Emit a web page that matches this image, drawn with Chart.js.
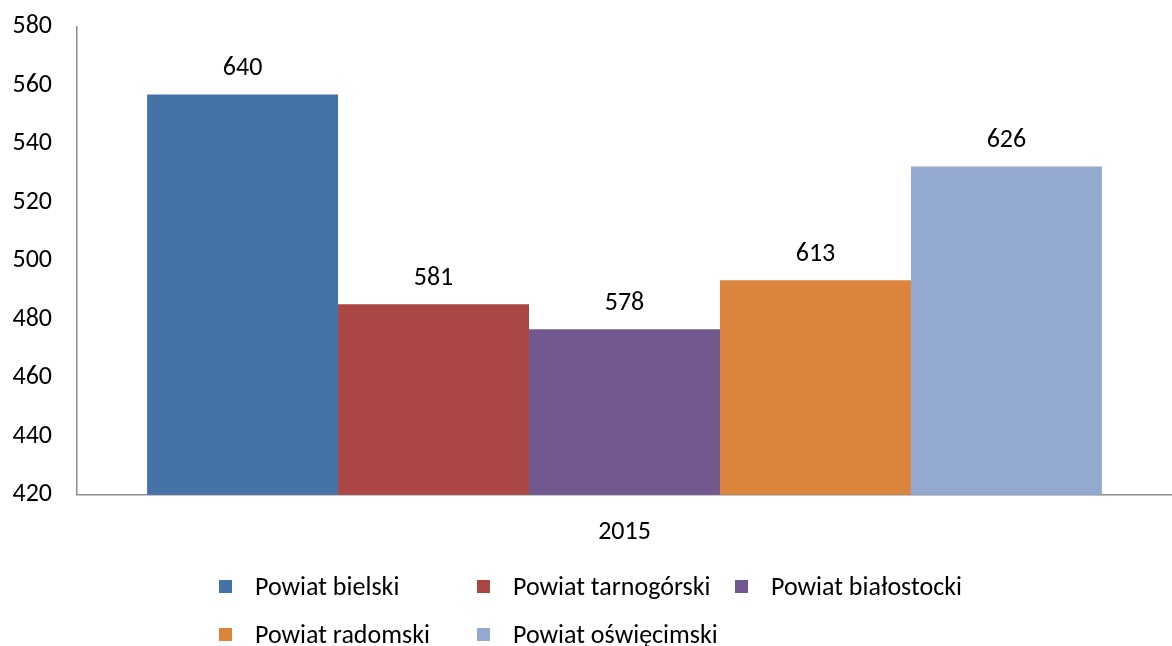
<!DOCTYPE html>
<html>
<head>
<meta charset="utf-8">
<script src="https://cdn.jsdelivr.net/npm/chart.js@4/dist/chart.umd.min.js"></script>
<style>
  body { margin: 0; background: #fff; font-family: Carlito, Lato, sans-serif; overflow: hidden; }
  #wrap { position: relative; width: 1172px; height: 646px; overflow: hidden; }
  #chart { position: absolute; left: 0; top: -14px; }
  #legend { position: absolute; left: 219px; top: 562px; width: 780px; display: flex; flex-wrap: wrap; }
  .item { width: 258px; height: 48px; line-height: 48px; display: flex; align-items: center; font-size: 26px; color: #000; }
  .box { width: 13px; height: 13px; margin-right: 23px; flex: none; }
</style>
</head>
<body>
<div id="wrap">
  <canvas id="chart" width="1172" height="584"></canvas>
  <div id="legend"></div>
</div>
<script>
// Dane
const kategorie = ['2015'];
const serie = ['Powiat bielski', 'Powiat tarnogórski', 'Powiat białostocki', 'Powiat radomski', 'Powiat oświęcimski'];
const wartosci = [556.8, 485.1, 476.6, 493.3, 532.2];   // wysokość słupków
const etykiety = [640, 581, 578, 613, 626];            // liczby nad słupkami
const kolory = ['#4572A7', '#AA4643', '#71588F', '#DB843D', '#93A9CF'];
const osY = { min: 420, max: 580, krok: 20 };

const czcionka = 'Carlito, Lato, sans-serif';

// Etykiety nad słupkami
const etykietyPlugin = {
  id: 'etykiety',
  afterDatasetsDraw(chart) {
    const ctx = chart.ctx;
    ctx.save();
    ctx.font = '26px ' + czcionka;
    ctx.fillStyle = '#000';
    ctx.textAlign = 'center';
    ctx.textBaseline = 'middle';
    chart.data.datasets.forEach((ds, i) => {
      const bar = chart.getDatasetMeta(i).data[0];
      ctx.fillText(etykiety[i], bar.x, bar.y - 26);
    });
    ctx.restore();
  }
};

new Chart(document.getElementById('chart'), {
  type: 'bar',
  data: {
    labels: kategorie,
    datasets: serie.map((nazwa, i) => ({
      label: nazwa,
      data: [wartosci[i]],
      backgroundColor: kolory[i],
      borderWidth: 0
    }))
  },
  options: {
    responsive: false,
    animation: false,
    layout: { padding: { top: 4, right: 0, left: 0, bottom: 0 } },
    plugins: { legend: { display: false }, tooltip: { enabled: false } },
    datasets: { bar: { barPercentage: 1, categoryPercentage: 0.872 } },
    scales: {
      x: {
        grid: { display: false, drawTicks: false },
        border: { color: '#8c8c8c', width: 1.5 },
        ticks: { color: '#000', font: { family: czcionka, size: 26 }, padding: 22 }
      },
      y: {
        min: osY.min,
        max: osY.max,
        grid: { display: false, drawTicks: false },
        border: { color: '#8c8c8c', width: 1.5 },
        ticks: { stepSize: osY.krok, color: '#000', font: { family: czcionka, size: 26 }, padding: 25 },
        afterFit(scale) { scale.width = 77; }
      }
    }
  },
  plugins: [etykietyPlugin]
});

// Legenda w HTML
const legenda = document.getElementById('legend');
serie.forEach((nazwa, i) => {
  const el = document.createElement('div');
  el.className = 'item';
  el.innerHTML = `<span class="box" style="background:${kolory[i]}"></span><span>${nazwa}</span>`;
  legenda.appendChild(el);
});
</script>
</body>
</html>
